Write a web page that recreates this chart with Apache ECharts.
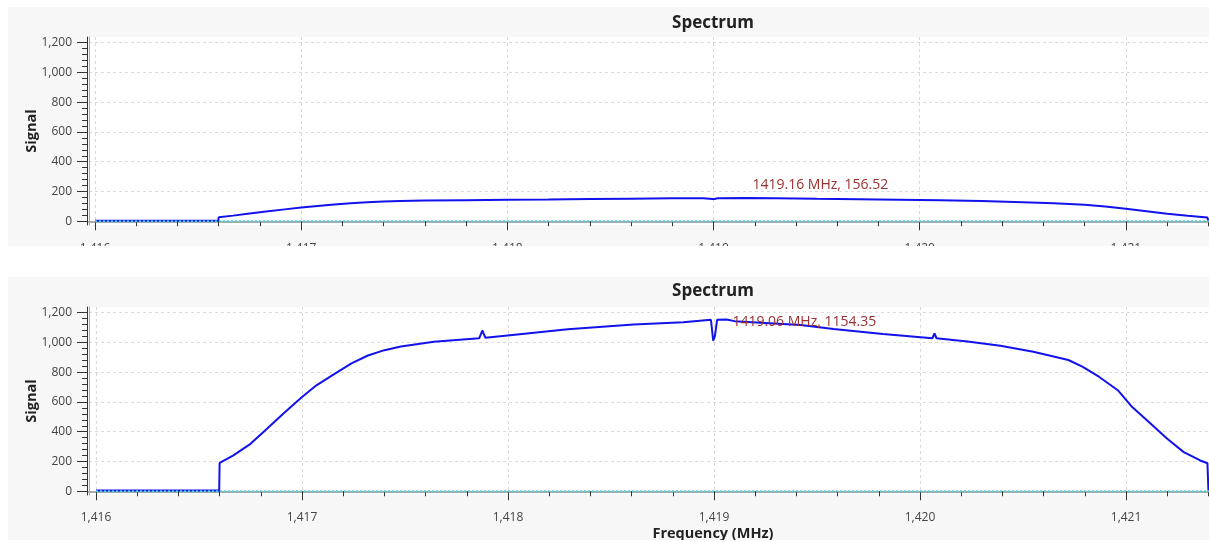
<!DOCTYPE html>
<html><head><meta charset="utf-8">
<script src="https://cdn.jsdelivr.net/npm/echarts@6/dist/echarts.min.js"></script>
<style>
html,body{margin:0;padding:0;background:#fff;overflow:hidden;width:1209px;height:542px;}
.wrap{position:absolute;left:8px;width:1201px;overflow:hidden;background:#f7f7f7;}
.chart{width:1410px;}
</style></head><body>
<div class="wrap" style="top:7px;height:239px"><div id="c1" class="chart" style="height:275px"></div></div>
<div class="wrap" style="top:277px;height:263px"><div id="c2" class="chart" style="height:263px"></div></div>
<script>
const chartTitle = 'Spectrum';
const yAxisName = 'Signal';
const xAxisName = 'Frequency (MHz)';

const freqTop = [1416.0,1416.598,1416.6,1416.67,1416.75,1416.83,1416.92,1417.0,1417.08,1417.16,1417.24,1417.32,1417.4,1417.48,1417.6,1417.8,1418.0,1418.2,1418.4,1418.6,1418.8,1418.95,1418.995,1419.005,1419.02,1419.16,1419.3,1419.5,1419.7,1419.9,1420.1,1420.3,1420.5,1420.65,1420.8,1420.9,1421.0,1421.1,1421.2,1421.3,1421.395,1421.4,1422.03];
const signalTop = [4,4,27,38,52,66,80,92,103,112,121,128,133,136,139,142,145,147,150,152,154,155,150,150,155,156.5,155,151,148,145,142,136,128,121,111,99,84,67,50,37,26,4,4];

const freqBottom = [1416.0,1416.598,1416.6,1416.665,1416.75,1416.83,1416.91,1417.0,1417.07,1417.16,1417.24,1417.32,1417.4,1417.48,1417.64,1417.86,1417.875,1417.89,1418.01,1418.29,1418.61,1418.85,1418.985,1418.996,1419.004,1419.015,1419.06,1419.1,1419.42,1419.58,1419.82,1420.06,1420.07,1420.08,1420.23,1420.39,1420.55,1420.72,1420.79,1420.87,1420.96,1421.03,1421.12,1421.2,1421.28,1421.36,1421.395,1421.4,1422.03];
const signalBottom = [5,5,190,240,319,420,522,634,712,791,859,912,948,973,1004,1028,1080,1032,1049,1088,1121,1135,1152,1012,1040,1152,1154.35,1143,1117,1090,1056,1028,1060,1028,1006,977,938,882,836,768,679,566,454,353,263,207,188,5,5];

const baselineFreq = [1416.0, 1422.03];
const baselineValue = [0, 0];

const xMajorTicks = [1416,1417,1418,1419,1420,1421,1422];
const xMinorTicks = [1416.2,1416.4,1416.6,1416.8,1417.2,1417.4,1417.6,1417.8,1418.2,1418.4,1418.6,1418.8,1419.2,1419.4,1419.6,1419.8,1420.2,1420.4,1420.6,1420.8,1421.2,1421.4,1421.6,1421.8];
const yMajorTicks = [0,200,400,600,800,1000,1200];
const yMinorTicks = [40,80,120,160,240,280,320,360,440,480,520,560,640,680,720,760,840,880,920,960,1040,1080,1120,1160];

const markerTop = [1419.16, 156.52];
const markerBottom = [1419.06, 1154.35];

const FONT = '"Open Sans", "DejaVu Sans", sans-serif';
function fmt(v){ return Number(v).toLocaleString('en-US'); }

function makeOption(freq, signal, marker, labelDy, showXName, xOffset, titleTop, xMin){
  const xMax = 1422.024, yMin = -25, yMax = 1238;
  const data = freq.map((f,i)=>[f, signal[i]]);
  const base = baselineFreq.map((f,i)=>[f, baselineValue[i]]);
  const dark = '#333';
  return {
    animation:false,
    backgroundColor:'#f7f7f7',
    textStyle:{fontFamily:FONT},
    title:{text:chartTitle, left:'center', top:titleTop, padding:0,
      textStyle:{fontSize:17, fontWeight:'bold', color:'#222', fontFamily:FONT}},
    grid:{left:81, top:30, width:1248, height:188, show:true, backgroundColor:'#ffffff', borderWidth:0,
      containLabel:false, outerBoundsMode:'none'},
    xAxis:[
      {type:'value', min:xMin, max:xMax, position:'bottom', offset:xOffset,
       name: showXName ? xAxisName : '', nameLocation:'middle', nameGap:27, nameMoveOverlap:false,
       nameTextStyle:{fontSize:14.5, fontWeight:'bold', color:'#222', fontFamily:FONT},
       axisLine:{show:true, lineStyle:{color:dark, width:1}},
       axisTick:{show:true, customValues:xMajorTicks, length:9, lineStyle:{color:dark}},
       axisLabel:{show:true, customValues:xMajorTicks, formatter:fmt, margin:13, fontSize:12, color:'#444', fontFamily:FONT},
       splitLine:{show:true, lineStyle:{color:'#dadada', type:[3,3], width:1}}},
      {type:'value', min:xMin, max:xMax, position:'bottom', offset:xOffset,
       axisLine:{show:false},
       axisTick:{show:true, customValues:xMinorTicks, length:5, lineStyle:{color:dark}},
       axisLabel:{show:false}, splitLine:{show:false}},
      {type:'value', min:xMin, max:xMax, position:'top',
       axisLine:{show:true, lineStyle:{color:'#aaaaaa', width:2}},
       axisTick:{show:false}, axisLabel:{show:false}, splitLine:{show:false}}
    ],
    yAxis:[
      {type:'value', min:yMin, max:yMax, position:'left', offset:2,
       name:yAxisName, nameLocation:'middle', nameGap:48, nameMoveOverlap:false,
       nameTextStyle:{fontSize:14.5, fontWeight:'bold', color:'#222', fontFamily:FONT},
       axisLine:{show:true, lineStyle:{color:dark, width:1}},
       axisTick:{show:true, customValues:yMajorTicks, length:10, lineStyle:{color:dark}},
       axisLabel:{show:true, customValues:yMajorTicks, formatter:fmt, margin:15, fontSize:12, color:'#444', fontFamily:FONT},
       splitLine:{show:true, lineStyle:{color:'#dadada', type:[3,3], width:1}}},
      {type:'value', min:yMin, max:yMax, position:'left', offset:2,
       axisLine:{show:false},
       axisTick:{show:true, customValues:yMinorTicks, length:5, lineStyle:{color:dark}},
       axisLabel:{show:false}, splitLine:{show:false}},
      {type:'value', min:yMin, max:yMax, position:'left', offset:0,
       axisLine:{show:true, lineStyle:{color:'#aaaaaa', width:1}},
       axisTick:{show:false}, axisLabel:{show:false}, splitLine:{show:false}}
    ],
    series:[
      {type:'line', data:data, xAxisIndex:0, yAxisIndex:0, showSymbol:false, symbol:'none',
       lineStyle:{color:'#1212ec', width:2}, z:3,
       markPoint:{symbol:'circle', symbolSize:2, itemStyle:{color:'rgba(0,0,0,0)'},
         label:{show:true, position:'right', distance:5, offset:[0,labelDy],
           formatter: ()=> marker[0].toFixed(2)+' MHz, '+marker[1].toFixed(2),
           color:'#9c2f2f', fontSize:14, fontFamily:FONT},
         data:[{coord:marker}]}},
      {type:'line', data:base, xAxisIndex:0, yAxisIndex:0, showSymbol:false, symbol:'none',
       lineStyle:{color:'#45d3dc', width:2, type:'dotted'}, z:4}
    ]
  };
}

const c1 = echarts.init(document.getElementById('c1'), null, {renderer:'canvas'});
c1.setOption(makeOption(freqTop, signalTop, markerTop, -13, false, 5, 8, 1415.971));
const c2 = echarts.init(document.getElementById('c2'), null, {renderer:'canvas'});
c2.setOption(makeOption(freqBottom, signalBottom, markerBottom, 3, true, 4, 6, 1415.966));
</script>
</body></html>
